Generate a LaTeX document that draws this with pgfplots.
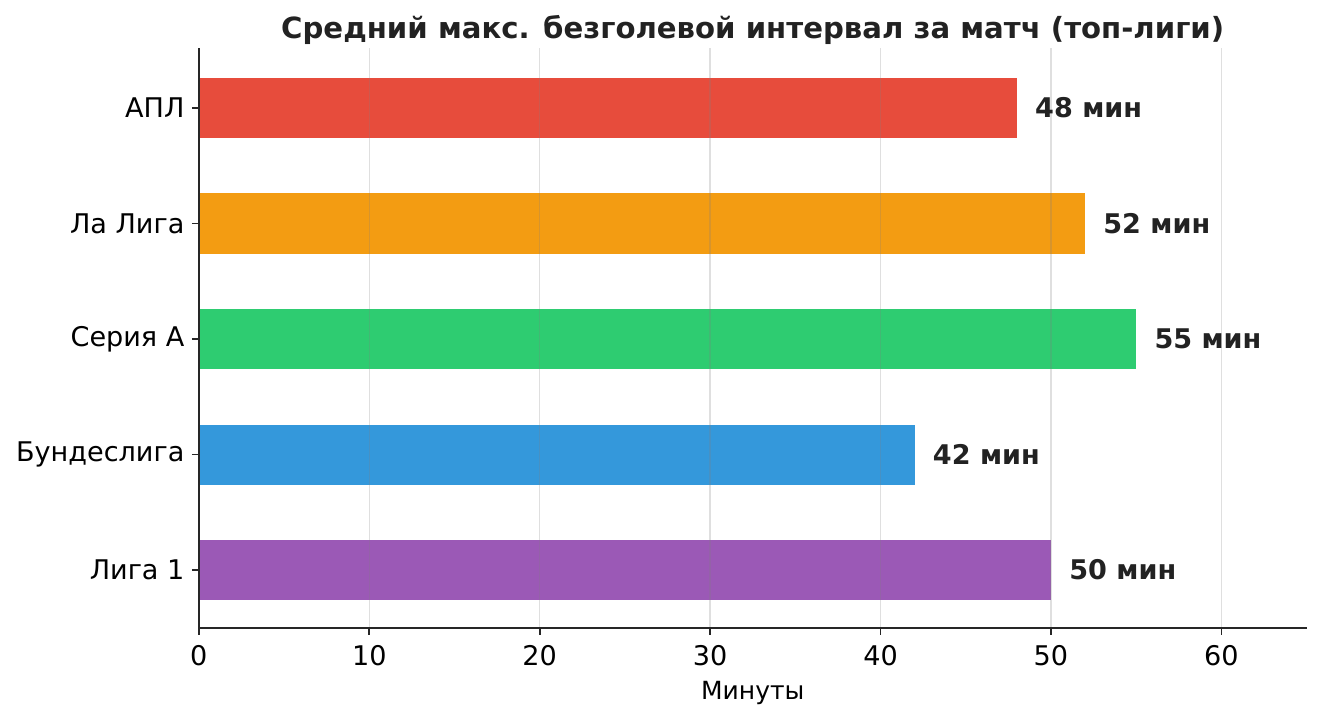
\documentclass[border=0pt]{standalone}
\usepackage{fontspec}
\setmainfont{DejaVu Sans}
\usepackage{pgfplots}
\pgfplotsset{compat=1.18}

\definecolor{cRed}{HTML}{E74C3C}
\definecolor{cOrange}{HTML}{F39C12}
\definecolor{cGreen}{HTML}{2ECC71}
\definecolor{cBlue}{HTML}{3498DB}
\definecolor{cPurple}{HTML}{9B59B6}
\definecolor{txt}{HTML}{222222}

\begin{document}
\begin{tikzpicture}
  \begin{axis}[
      xbar,
      bar width=0.52,
      bar shift=0pt,
      width=531.8pt,
      height=278.4pt,
      scale only axis,
      xmin=0, xmax=65,
      ymin=-0.50, ymax=4.52,
      xtick={0,10,...,60},
      ytick={0,1,2,3,4},
      yticklabels={Лига 1, Бундеслига, Серия А, Ла Лига, АПЛ},
      axis x line*=bottom,
      axis y line*=left,
      axis line style={black!85, line width=0.8pt},
      tick style={black!85, line width=0.8pt},
      tick align=outside,
      major tick length=3.4pt,
      xmajorgrids,
      grid style={draw=gray, opacity=0.25, line width=0.6pt},
      axis on top,
      /pgf/number format/assume math mode=true,
      ticklabel style={font=\fontsize{13}{15}\selectfont},
      xticklabel style={yshift=-1.5pt},
      every axis title shift=0pt,
      title={Средний макс. безголевой интервал за матч (топ-лиги)},
      title style={font=\fontsize{14}{16}\selectfont\bfseries, text=txt,
        at={(0.5,1)}, anchor=south, inner sep=1.6pt},
      xlabel={Минуты},
      xlabel style={font=\fontsize{12}{14}\selectfont, yshift=-0.5pt},
      point meta=x,
      nodes near coords={\pgfmathprintnumber{\pgfplotspointmeta}~мин},
      nodes near coords style={anchor=west, inner sep=0pt, xshift=8.6pt,
        font=\fontsize{13}{15}\selectfont\bfseries, text=txt},
    ]

    % one plot per league so each bar gets its own colour
    \addplot[fill=cRed, draw=none] coordinates {(48,4)};
    \addplot[fill=cOrange, draw=none] coordinates {(52,3)};
    \addplot[fill=cGreen, draw=none] coordinates {(55,2)};
    \addplot[fill=cBlue, draw=none] coordinates {(42,1)};
    \addplot[fill=cPurple, draw=none] coordinates {(50,0)};

  \end{axis}
  % white margin as in the reference
  \path ([shift={(-4.4pt,-4.6pt)}]current bounding box.south west)
    rectangle ([shift={(7pt,5.6pt)}]current bounding box.north east);
\end{tikzpicture}
\end{document}
